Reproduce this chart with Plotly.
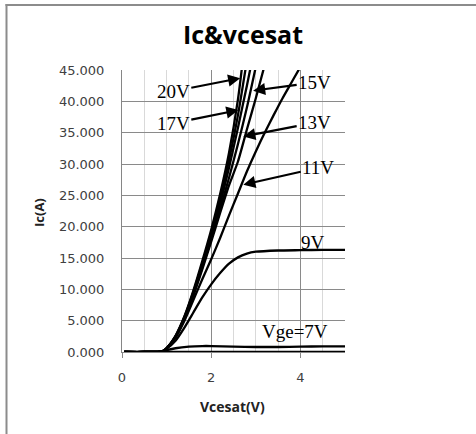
import plotly.graph_objects as go

# ---------------- data ----------------
x_base = [0.05, 0.5, 0.9, 1.0, 1.2, 1.5, 1.8, 2.0, 2.5, 3.0, 3.5, 4.0, 4.5, 5.0]
y_base = [0, 0, 0, 0, 0, 0, 0, 0, 0, 0, 0, 0, 0, 0]

x_7v = [0.05, 0.5, 0.9, 1.0, 1.2, 1.5, 1.8, 2.0, 2.5, 3.0, 3.5, 4.0, 4.5, 5.0]
y_7v = [0, 0, 0.05, 0.3, 0.6, 0.85, 0.95, 0.95, 0.85, 0.8, 0.8, 0.85, 0.9, 0.9]

x_9v = [0.05, 0.5, 0.9, 1.0, 1.2, 1.4, 1.6, 1.8, 2.0, 2.2, 2.4, 2.6, 2.8, 3.0, 3.5, 4.0, 4.5, 5.0]
y_9v = [0, 0, 0.1, 0.5, 1.8, 3.9, 6.3, 8.7, 10.8, 12.6, 14.1, 15.1, 15.7, 16.0, 16.2, 16.25, 16.3, 16.3]

x_11v = [0.05, 0.5, 0.9, 1.0, 1.2, 1.4, 1.6, 1.8, 2.0, 2.2, 2.4, 2.6, 2.8, 3.0, 3.2, 3.4, 3.6, 3.8, 4.0]
y_11v = [0, 0, 0.1, 0.6, 2.3, 5.0, 8.3, 11.6, 14.8, 18.2, 21.8, 25.3, 28.8, 32.0, 35.0, 37.8, 40.5, 43.0, 45.5]

x_13v = [0.05, 0.5, 0.9, 1.0, 1.2, 1.4, 1.6, 1.8, 2.0, 2.2, 2.4, 2.6, 2.8, 3.0, 3.2]
y_13v = [0, 0, 0.1, 0.6, 2.4, 5.3, 9.0, 13.2, 17.6, 22.2, 26.6, 30.4, 35.5, 40.5, 45.8]

x_15v = [0.05, 0.5, 0.9, 1.0, 1.2, 1.4, 1.6, 1.8, 2.0, 2.2, 2.4, 2.6, 2.8, 3.0]
y_15v = [0, 0, 0.1, 0.6, 2.4, 5.4, 9.2, 13.5, 18.0, 22.8, 27.8, 33.2, 39.0, 45.5]

x_16v = [0.05, 0.5, 0.9, 1.0, 1.2, 1.4, 1.6, 1.8, 2.0, 2.2, 2.4, 2.6, 2.8, 2.9]
y_16v = [0, 0, 0.1, 0.6, 2.5, 5.5, 9.4, 13.8, 18.5, 23.6, 29.4, 35.8, 42.5, 46.0]

x_17v = [0.05, 0.5, 0.9, 1.0, 1.2, 1.4, 1.6, 1.8, 2.0, 2.2, 2.4, 2.6, 2.8]
y_17v = [0, 0, 0.1, 0.6, 2.5, 5.6, 9.6, 14.1, 19.0, 24.4, 30.6, 37.8, 46.5]

x_20v = [0.05, 0.5, 0.9, 1.0, 1.2, 1.4, 1.6, 1.8, 2.0, 2.2, 2.4, 2.6, 2.7]
y_20v = [0, 0, 0.1, 0.6, 2.6, 5.7, 9.8, 14.5, 19.5, 25.2, 31.8, 40.3, 46.0]

series = [
    ("base", x_base, y_base),
    ("Vge=7V", x_7v, y_7v),
    ("9V", x_9v, y_9v),
    ("11V", x_11v, y_11v),
    ("13V", x_13v, y_13v),
    ("15V", x_15v, y_15v),
    ("16V", x_16v, y_16v),
    ("17V", x_17v, y_17v),
    ("20V", x_20v, y_20v),
]

y_ticks = [0, 5, 10, 15, 20, 25, 30, 35, 40, 45]
y_tick_text = ["0.000", "5.000", "10.000", "15.000", "20.000", "25.000",
               "30.000", "35.000", "40.000", "45.000"]
x_ticks = [0, 2, 4]

# labels: (text, text x, text y, arrow tip x, arrow tip y or None)
labels = [
    ("20V", 1.15, 41.6, 2.65, 43.7),
    ("17V", 1.15, 36.5, 2.61, 38.6),
    ("15V", 4.32, 43.0, 2.94, 41.7),
    ("13V", 4.32, 36.6, 2.72, 34.4),
    ("11V", 4.40, 29.4, 2.72, 26.7),
    ("9V", 4.29, 17.5, None, None),
    ("Vge=7V", 3.88, 3.2, None, None),
]

# ---------------- figure ----------------
W, H = 476, 434
L, R, T, B = 122, 131, 70, 82   # plot area 122..345 px, 70..352 px

fig = go.Figure()
for name, xs, ys in series:
    fig.add_trace(go.Scatter(
        x=xs, y=ys, mode="lines", name=name,
        line=dict(color="black", width=2.3, shape="spline", smoothing=0.6),
        showlegend=False, hoverinfo="skip"))

for text, tx, ty, px, py in labels:
    if px is None:
        fig.add_annotation(x=tx, y=ty, xref="x", yref="y", text=text,
                           showarrow=False,
                           font=dict(family="Liberation Serif", size=19, color="black"))
    else:
        fig.add_annotation(x=px, y=py, xref="x", yref="y", ax=tx, ay=ty,
                           axref="x", ayref="y", text=text, showarrow=True,
                           arrowhead=2, arrowsize=1.1, arrowwidth=2.2,
                           arrowcolor="black", standoff=0,
                           font=dict(family="Liberation Serif", size=19, color="black"))

pw = W - L - R
ph = H - T - B

def px_x(p):
    return (p - L) / pw

def px_y(p):
    return (H - B - p) / ph

# outer chart frame: left and top edges visible
fig.add_shape(type="rect", xref="paper", yref="paper",
              x0=px_x(5.5), x1=px_x(W + 5), y0=px_y(6), y1=px_y(4),
              line=dict(width=0), fillcolor="#8c8c8c", layer="above")
fig.add_shape(type="rect", xref="paper", yref="paper",
              x0=px_x(5.5), x1=px_x(7.5), y0=px_y(H + 5), y1=px_y(4),
              line=dict(width=0), fillcolor="#8c8c8c", layer="above")

# axis titles
fig.add_annotation(xref="paper", yref="paper", x=px_x(232), y=px_y(407),
                   xanchor="center", yanchor="middle",
                   text="<b>Vcesat(V)</b>", showarrow=False,
                   font=dict(family="Open Sans", size=14, color="#222"))
fig.add_annotation(xref="paper", yref="paper", x=px_x(39), y=px_y(213),
                   xanchor="center", yanchor="middle",
                   text="<b>Ic(A)</b>", showarrow=False, textangle=-90,
                   font=dict(family="Open Sans", size=13, color="#222"))

fig.update_layout(
    width=W, height=H,
    margin=dict(l=L, r=R, t=T, b=B),
    paper_bgcolor="white", plot_bgcolor="white",
    title=dict(text="<b>Ic&vcesat</b>", x=243 / W, xref="container",
               y=1 - 35 / H, yref="container", xanchor="center", yanchor="middle",
               font=dict(family="Open Sans", size=25, color="black")),
    xaxis=dict(range=[0, 5], tickvals=x_ticks, ticks="outside", ticklen=5,
               tickcolor="#868686", showline=True, linecolor="#868686",
               linewidth=1, showgrid=True, gridcolor="#8a8a8a", gridwidth=1,
               zeroline=False, ticklabelstandoff=8,
               tickfont=dict(family="DejaVu Sans", size=13, color="#404040"),
               minor=dict(dtick=0.5, tick0=0, showgrid=True, gridcolor="#d9d9d9",
                          gridwidth=1, ticks="")),
    yaxis=dict(range=[0, 45], tickvals=y_ticks, ticktext=y_tick_text,
               showline=True, linecolor="#868686", linewidth=1,
               showgrid=True, gridcolor="#8a8a8a", gridwidth=1,
               zeroline=False, ticks="", ticklabelstandoff=14,
               tickfont=dict(family="DejaVu Sans", size=13, color="#404040")),
)

post_js = (
    "document.body.style.margin='0px';"
    "document.body.style.overflow='hidden';"
    "var fb=document.createElement('div');"
    "fb.style.cssText='position:fixed;left:6px;top:4px;width:480px;height:2px;"
    "background:#8c8c8c;pointer-events:none;z-index:10;';"
    "document.body.appendChild(fb);"
)

fig.write_html("out.html", config={"displayModeBar": False}, post_script=post_js)
